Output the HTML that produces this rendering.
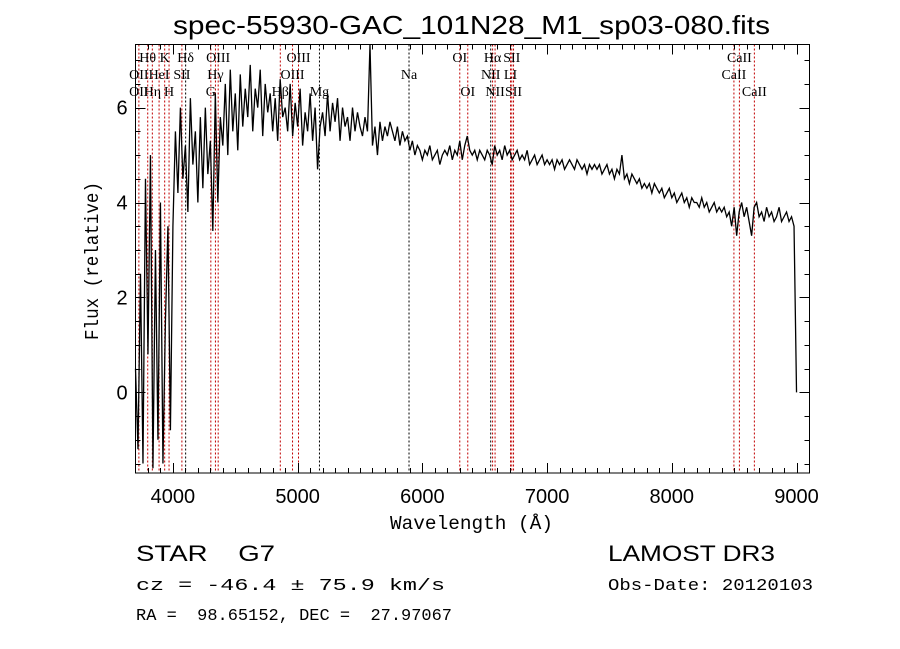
<!DOCTYPE html>
<html><head><meta charset="utf-8">
<style>
html,body{margin:0;padding:0;background:#fff;}
svg{display:block;}
text{fill:#000;white-space:pre;}
</style></head>
<body>
<svg id="chart" width="900" height="649" viewBox="0 0 900 649" xmlns="http://www.w3.org/2000/svg">
<rect x="0" y="0" width="900" height="649" fill="#fff"/>
<text x="173" y="34" textLength="597" lengthAdjust="spacingAndGlyphs" font-family="Liberation Sans, sans-serif" font-size="26">spec-55930-GAC_101N28_M1_sp03-080.fits</text>
<g id="lines"></g>
<g id="labels"></g>
<path id="spec" fill="none" stroke="#000" stroke-width="1.3"/>
<rect x="135.5" y="44.5" width="674" height="428.5" fill="none" stroke="#000" stroke-width="1"/>
<g id="ticks" stroke="#000" stroke-width="1"></g>
<g id="ticklabels" font-family="Liberation Sans, sans-serif" font-size="20"></g>
<text x="390" y="529" textLength="163" lengthAdjust="spacingAndGlyphs" font-family="Liberation Mono, monospace" font-size="19">Wavelength (Å)</text>
<text transform="translate(98,340) rotate(-90)" textLength="158" lengthAdjust="spacingAndGlyphs" font-family="Liberation Mono, monospace" font-size="19">Flux (relative)</text>
<text x="136" y="561" textLength="139" lengthAdjust="spacingAndGlyphs" font-family="Liberation Sans, sans-serif" font-size="22" xml:space="preserve">STAR    G7</text>
<text x="136" y="590" textLength="309" lengthAdjust="spacingAndGlyphs" font-family="Liberation Mono, monospace" font-size="17" xml:space="preserve">cz = -46.4 ± 75.9 km/s</text>
<text x="136" y="620" textLength="316" lengthAdjust="spacingAndGlyphs" font-family="Liberation Mono, monospace" font-size="17" xml:space="preserve">RA =  98.65152, DEC =  27.97067</text>
<text x="608" y="561" textLength="167" lengthAdjust="spacingAndGlyphs" font-family="Liberation Sans, sans-serif" font-size="22">LAMOST DR3</text>
<text x="608" y="590" textLength="205" lengthAdjust="spacingAndGlyphs" font-family="Liberation Mono, monospace" font-size="17">Obs-Date: 20120103</text>
</svg>
<script>
const startWave = 3700;
const stepWave = 20;
const flux = [
0.5,-1.2,2.5,-1.5,4.5,0.8,5.0,-1.6,3.0,-1.0,4.0,-1.5,1.5,3.5,-0.8,
3.5,5.5,4.2,6.0,4.5,5.2,3.8,6.2,4.8,5.5,
4.0,5.8,4.3,6.0,4.6,5.3,3.4,6.3,4.0,5.8,
5.2,6.5,5.0,6.8,5.5,6.3,5.1,6.7,5.6,6.4,
5.8,6.9,5.5,6.4,6.0,6.8,5.4,6.5,5.9,6.3,
5.5,6.2,5.3,6.6,5.8,6.0,5.5,6.5,5.4,6.1,
5.6,6.4,5.2,5.9,5.5,6.3,5.3,6.0,4.7,5.6,
5.9,5.4,6.3,5.5,6.1,5.7,6.2,5.3,6.0,5.6,
5.8,5.3,6.0,5.5,5.9,5.6,5.4,5.8,5.5,7.4,
5.2,5.6,5.0,5.7,5.3,5.6,5.4,5.7,5.5,5.3,
5.6,5.2,5.5,5.3,5.4,5.1,5.3,5.0,5.2,5.1,
4.9,5.1,5.0,5.2,4.9,5.0,5.1,4.8,5.0,5.1,
5.0,5.2,4.9,5.1,5.0,5.3,4.9,5.2,5.4,5.1,
5.0,5.1,4.9,5.1,5.0,4.9,5.1,5.0,4.8,5.2,
5.0,5.1,4.9,5.2,5.0,5.1,4.9,5.0,5.1,4.9,
5.0,4.9,5.1,4.8,4.9,5.0,4.8,4.9,5.0,4.8,
4.9,4.8,4.9,4.7,4.9,4.8,4.9,4.7,4.8,4.9,
4.8,4.7,4.9,4.8,4.7,4.8,4.6,4.8,4.7,4.8,
4.7,4.8,4.6,4.7,4.8,4.6,4.7,4.5,4.7,4.6,
5.0,4.5,4.6,4.4,4.6,4.5,4.4,4.5,4.3,4.4,
4.3,4.4,4.2,4.4,4.3,4.2,4.3,4.1,4.2,4.3,
4.1,4.2,4.0,4.1,4.2,4.0,4.1,3.9,4.1,4.0,
4.0,3.9,4.1,3.9,4.0,3.8,3.9,4.0,3.8,3.9,
3.8,3.9,3.7,3.8,3.5,3.9,3.3,3.8,4.0,3.7,
3.9,3.6,3.3,3.9,4.0,3.7,3.8,3.6,3.9,3.7,
3.8,3.6,3.7,3.9,3.6,3.7,3.8,3.6,3.7,3.5,
0.0
];
const lineWaves = [3727,3798,3835,3889,3934,3969,4072,4102,4304,4341,4363,4861,4959,5007,5175,5893,6300,6364,6548,6563,6583,6707,6717,6731,8498,8542,8662];
const lineColors = ['r','r','r','r','r','r','r','k','r','r','r','r','r','r','k','k','r','r','k','r','r','r','r','r','r','r','r'];
const labelTexts = ['Hθ','K','Hδ','OIII','OIII','OI','Hα','SII','CaII','OII','HeI','SII','Hγ','OIII','Na','NII','LI','CaII','OII','Hη','H','G','Hβ','Mg','OI','NII','SII','CaII'];
const labelWaves = [3798,3934,4102,4363,5007,6300,6563,6717,8542,3727,3889,4072,4341,4959,5893,6548,6707,8498,3727,3835,3969,4304,4861,5175,6364,6583,6731,8662];
const labelRows = [0,0,0,0,0,0,0,0,0,1,1,1,1,1,1,1,1,1,2,2,2,2,2,2,2,2,2,2];
const xTicks = [4000,5000,6000,7000,8000,9000];
const yTicks = [0,2,4,6];

const NS='http://www.w3.org/2000/svg';
const X0=135.5, X1=809.5, Y0=44.5, Y1=473;
const xmin=3700, xmax=9104, ymin=-1.70, ymax=7.33;
function sx(w){return X0+(w-xmin)/(xmax-xmin)*(X1-X0);}
function sy(v){return Y1-(v-ymin)/(ymax-ymin)*(Y1-Y0);}
function clampY(y){return Math.max(Y0,Math.min(Y1,y));}

let d='';
flux.forEach((f,i)=>{const w=startWave+stepWave*i;d+=(i?'L':'M')+sx(w).toFixed(2)+' '+clampY(sy(f)).toFixed(2);});
document.getElementById('spec').setAttribute('d',d);

const lg=document.getElementById('lines');
lineWaves.forEach((w,i)=>{
  const l=document.createElementNS(NS,'line');
  const x=sx(w);
  l.setAttribute('x1',x);l.setAttribute('x2',x);l.setAttribute('y1',Y0);l.setAttribute('y2',Y1);
  l.setAttribute('stroke',lineColors[i]==='r'?'#c00000':'#000');
  l.setAttribute('stroke-width','1');l.setAttribute('stroke-dasharray','2,2');
  
  
  lg.appendChild(l);
});
const lb=document.getElementById('labels');
labelTexts.forEach((t,i)=>{
  const e=document.createElementNS(NS,'text');
  e.setAttribute('x',sx(labelWaves[i]));e.setAttribute('y',62+labelRows[i]*17);
  e.setAttribute('text-anchor','middle');e.setAttribute('font-family','Liberation Serif, serif');e.setAttribute('font-size','14');
  e.textContent=t;
  
  
  lb.appendChild(e);
});
const tg=document.getElementById('ticks'), tl=document.getElementById('ticklabels');
function tick(x1,y1,x2,y2){const l=document.createElementNS(NS,'line');l.setAttribute('x1',x1);l.setAttribute('y1',y1);l.setAttribute('x2',x2);l.setAttribute('y2',y2);
  
  
  tg.appendChild(l);}
for(let w=3800;w<=9100;w+=100){const x=Math.round(sx(w))+0.5;const L=(w%1000===0)?10:5;tick(x,Y1,x,Y1-L);tick(x,Y0,x,Y0+L);}
for(let v=-1.5;v<=7.3;v+=0.5){const y=Math.round(sy(v))+0.5;const L=(Math.abs(v%2)<1e-6)?10:5;tick(X0,y,X0+L,y);tick(X1,y,X1-L,y);}
xTicks.forEach(w=>{const e=document.createElementNS(NS,'text');e.setAttribute('x',sx(w));e.setAttribute('y',Y1+30);e.setAttribute('text-anchor','middle');e.textContent=w;
  
  
  tl.appendChild(e);});
yTicks.forEach(v=>{const e=document.createElementNS(NS,'text');e.setAttribute('x',122);e.setAttribute('y',sy(v)+7);e.setAttribute('text-anchor','middle');e.textContent=v;
  
  
  tl.appendChild(e);});
</script>
</body></html>
